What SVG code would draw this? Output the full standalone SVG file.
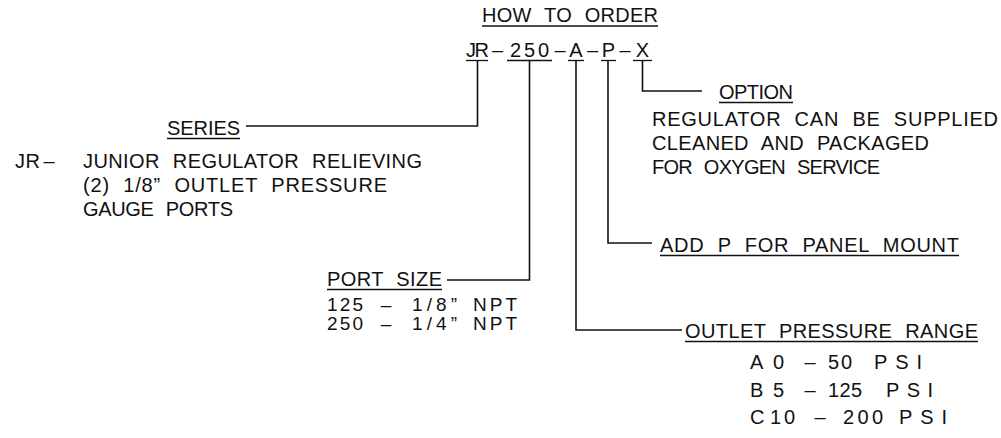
<svg xmlns="http://www.w3.org/2000/svg" width="1001" height="438" viewBox="0 0 1001 438">
<style>
text{font-family:"Liberation Sans",Arial,sans-serif;font-size:20px;fill:#111;word-spacing:7px;}
.m{text-anchor:middle;}
.s{font-size:19px;}
.ul{stroke:#111;stroke-width:1.3;}
.c{fill:none;stroke:#111;stroke-width:1.6;}
</style>
<rect width="1001" height="438" fill="#fff"/>
<g id="title">
<text x="482" y="22" textLength="176" lengthAdjust="spacing">HOW TO ORDER</text>
<line class="ul" x1="482" y1="26" x2="658" y2="26"/>
</g>
<g id="code">
<text x="466" y="57" textLength="23" lengthAdjust="spacing">JR</text>
<text class="m" x="497.5" y="57">–</text>
<text x="510" y="57" textLength="39" lengthAdjust="spacing">250</text>
<text class="m" x="560" y="57">–</text>
<text class="m" x="576" y="57">A</text>
<text class="m" x="592.5" y="57">–</text>
<text class="m" x="608.5" y="57">P</text>
<text class="m" x="625" y="57">–</text>
<text class="m" x="642.5" y="57">X</text>
<line class="ul" x1="466" y1="60.5" x2="488" y2="60.5"/>
<line class="ul" x1="507" y1="60.5" x2="552" y2="60.5"/>
<line class="ul" x1="568" y1="60.5" x2="584" y2="60.5"/>
<line class="ul" x1="601" y1="60.5" x2="616" y2="60.5"/>
<line class="ul" x1="633" y1="60.5" x2="652" y2="60.5"/>
</g>
<g id="series">
<text x="167" y="135" textLength="73" lengthAdjust="spacing">SERIES</text>
<line class="ul" x1="167" y1="138.5" x2="240" y2="138.5"/>
<text x="15" y="168" textLength="25" lengthAdjust="spacing">JR</text>
<text class="m" x="49" y="168">–</text>
<text x="83" y="168" textLength="339" lengthAdjust="spacing">JUNIOR REGULATOR RELIEVING</text>
<text x="83" y="192" textLength="304" lengthAdjust="spacing">(2) 1/8” OUTLET PRESSURE</text>
<text x="83" y="216" textLength="150" lengthAdjust="spacing">GAUGE PORTS</text>
</g>
<g id="port-size">
<text x="327" y="286" textLength="115" lengthAdjust="spacing">PORT SIZE</text>
<line class="ul" x1="327" y1="289.5" x2="442" y2="289.5"/>
<text class="s" x="327" y="311" textLength="36" lengthAdjust="spacing">125</text>
<text class="s m" x="386" y="311">–</text>
<text class="s" x="412" y="311" textLength="45" lengthAdjust="spacing">1/8”</text>
<text class="s" x="473" y="311" textLength="44" lengthAdjust="spacing">NPT</text>
<text class="s" x="327" y="330" textLength="36" lengthAdjust="spacing">250</text>
<text class="s m" x="386" y="330">–</text>
<text class="s" x="412" y="330" textLength="45" lengthAdjust="spacing">1/4”</text>
<text class="s" x="473" y="330" textLength="44" lengthAdjust="spacing">NPT</text>
</g>
<g id="outlet-pressure-range">
<text x="685" y="338" textLength="293" lengthAdjust="spacing">OUTLET PRESSURE RANGE</text>
<line class="ul" x1="685" y1="341.5" x2="978" y2="341.5"/>
<text x="750" y="369">A</text>
<text x="773" y="369">0</text>
<text class="m" x="810" y="369">–</text>
<text x="828" y="369" textLength="24" lengthAdjust="spacing">50</text>
<text x="874" y="369" textLength="48" lengthAdjust="spacing">PSI</text>
<text x="750" y="397">B</text>
<text x="773" y="397">5</text>
<text class="m" x="810" y="397">–</text>
<text x="828" y="397" textLength="34" lengthAdjust="spacing">125</text>
<text x="886" y="397" textLength="47" lengthAdjust="spacing">PSI</text>
<text x="750" y="424">C</text>
<text x="770" y="424" textLength="25" lengthAdjust="spacing">10</text>
<text class="m" x="820" y="424">–</text>
<text x="843" y="424" textLength="40" lengthAdjust="spacing">200</text>
<text x="899" y="424" textLength="48" lengthAdjust="spacing">PSI</text>
</g>
<g id="panel-mount">
<text x="660" y="252" textLength="299" lengthAdjust="spacing">ADD P FOR PANEL MOUNT</text>
<line class="ul" x1="660" y1="255.5" x2="959" y2="255.5"/>
</g>
<g id="option">
<text x="719" y="99" textLength="74" lengthAdjust="spacing">OPTION</text>
<line class="ul" x1="719" y1="102.5" x2="793" y2="102.5"/>
<text x="652" y="126" textLength="346" lengthAdjust="spacing">REGULATOR CAN BE SUPPLIED</text>
<text x="652" y="150" textLength="277" lengthAdjust="spacing">CLEANED AND PACKAGED</text>
<text x="652" y="174" textLength="228" lengthAdjust="spacing">FOR OXYGEN SERVICE</text>
</g>
<g id="connectors">
<polyline class="c" points="477.5,60.5 477.5,126 246,126"/>
<polyline class="c" points="529.5,60.5 529.5,280 447,280"/>
<polyline class="c" points="576,60.5 576,330 682,330"/>
<polyline class="c" points="608,60.5 608,243 652,243"/>
<polyline class="c" points="642.5,60.5 642.5,91 702,91"/>
</g>
</svg>
